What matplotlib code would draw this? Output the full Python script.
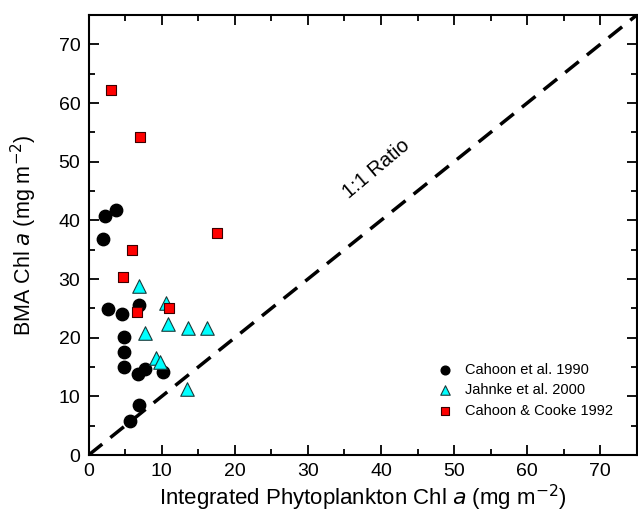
import matplotlib
matplotlib.use("Agg")
import matplotlib.pyplot as plt
from matplotlib.ticker import MultipleLocator

plt.rcParams['font.family'] = ['Liberation Sans', 'DejaVu Sans']

# Cahoon et al. 1990
cahoon90_x = [2.3, 2.0, 3.8, 2.7, 6.9, 4.6, 4.9, 4.8, 4.8, 6.8, 7.7, 10.2, 6.9, 5.6]
cahoon90_y = [40.8, 36.8, 41.8, 24.9, 25.6, 24.1, 20.2, 17.6, 15.0, 13.8, 14.7, 14.2, 8.5, 5.8]
# Jahnke et al. 2000
jahnke_x = [6.9, 10.6, 7.7, 10.8, 13.6, 16.2, 9.2, 9.8, 13.5]
jahnke_y = [28.8, 25.9, 20.8, 22.3, 21.7, 21.7, 16.5, 15.9, 11.2]
# Cahoon & Cooke 1992
cooke_x = [3.1, 7.0, 17.5, 5.9, 4.7, 11.0, 6.6]
cooke_y = [62.3, 54.2, 37.8, 34.9, 30.3, 25.0, 24.4]

ratio_x = [0, 75]
ratio_y = [0, 75]

fig = plt.figure(figsize=(6.38, 5.2), dpi=100)
ax = fig.add_axes([0.139, 0.125, 0.859, 0.846])

ax.plot(ratio_x, ratio_y, color='black', lw=2.5, dashes=(5, 3), zorder=1)

ax.scatter(cahoon90_x, cahoon90_y, marker='o', s=80, facecolor='black',
           edgecolor='black', label='Cahoon et al. 1990', zorder=3)
ax.scatter(jahnke_x, jahnke_y, marker='^', s=95, facecolor='#00ffff',
           edgecolor='#1a3a3a', linewidth=0.8, label='Jahnke et al. 2000', zorder=3)
ax.scatter(cooke_x, cooke_y, marker='s', s=60, facecolor='#ff0000',
           edgecolor='#3a0000', linewidth=0.8, label='Cahoon & Cooke 1992', zorder=4)

ax.text(39.3, 48.8, '1:1 Ratio', rotation=40, fontsize=14.5,
        ha='center', va='center')

ax.set_xlim(0, 75)
ax.set_ylim(0, 75)
ax.xaxis.set_major_locator(MultipleLocator(10))
ax.xaxis.set_minor_locator(MultipleLocator(5))
ax.yaxis.set_major_locator(MultipleLocator(10))
ax.yaxis.set_minor_locator(MultipleLocator(5))
ax.tick_params(which='both', direction='in', top=True, right=True,
               labeltop=False, labelright=False, width=1.3)
ax.tick_params(which='major', length=7, labelsize=14, pad=6)
ax.tick_params(which='minor', length=4)
for s in ax.spines.values():
    s.set_linewidth(1.5)

ax.set_xlabel('Integrated Phytoplankton Chl $\\it{a}$ (mg m$^{-2}$)', fontsize=16, labelpad=2)
ax.set_ylabel('BMA Chl $\\it{a}$ (mg m$^{-2}$)', fontsize=15.5, labelpad=14)

leg = ax.legend(loc='lower right', bbox_to_anchor=(0.98, 0.055), frameon=False,
                fontsize=10.5, markerscale=0.7, handletextpad=0.7, labelspacing=0.45,
                handlelength=1.3)

fig.savefig('out.png', dpi=100)
